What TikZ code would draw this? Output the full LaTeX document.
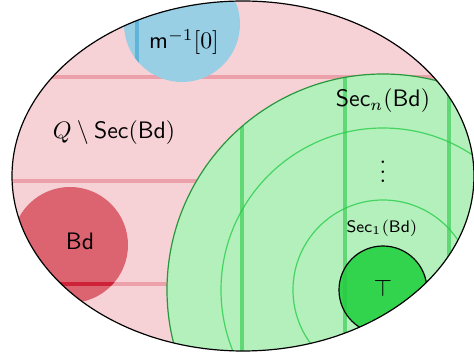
\documentclass[tikz,border=0pt]{standalone}
\usepackage{amsmath,amssymb}
\definecolor{pinkfill}{RGB}{246,210,215}
\definecolor{pinkline}{RGB}{236,160,170}
\definecolor{bluefill}{RGB}{152,207,229}
\definecolor{blueline}{RGB}{95,180,216}
\definecolor{redfill}{RGB}{220,99,112}
\definecolor{redline}{RGB}{206,34,56}
\definecolor{greenfill}{RGB}{179,240,188}
\definecolor{greenline}{RGB}{40,200,70}
\definecolor{greenring}{RGB}{68,213,96}
\definecolor{greenedge}{RGB}{40,150,60}
\definecolor{topfill}{RGB}{51,212,77}
\tikzset{
  gridline/.style={line width=1.4pt},
  ring/.style={draw=greenring, line width=0.5pt},
  lbl/.style={inner sep=0pt, font=\normalsize},
}
\begin{document}
\begin{tikzpicture}[x=0.42pt,y=-0.42pt]
\useasboundingbox (0,0) rectangle (474,356);
\def\ellpath{(243,176) ellipse [x radius=231, y radius=175]}
\begin{scope}
  \clip \ellpath;
  \fill[pinkfill] (0,0) rectangle (474,356);
  \foreach \yy in {77,181,284} \draw[gridline, pinkline] (0,\yy) -- (474,\yy);
  % blue region
  \begin{scope}
    \clip (182,24) circle [radius=58];
    \fill[bluefill] (0,0) rectangle (474,356);
    \draw[gridline, blueline] (137,0) -- (137,100);
  \end{scope}
  % Bd region
  \begin{scope}
    \clip (70,245) circle [radius=58];
    \fill[redfill] (0,0) rectangle (474,356);
    \draw[gridline, redline] (0,284) -- (200,284);
  \end{scope}
  % green region
  \begin{scope}
    \clip (383,290) circle [radius=216];
    \fill[greenfill] (0,0) rectangle (474,356);
    \draw[ring] (383,290) circle [radius=162];
    \draw[ring] (383,290) circle [radius=90];
    \fill[topfill] (383,290) circle [radius=44];
    \foreach \xx in {242,345,449} \draw[gridline, greenline, opacity=0.6] (\xx,0) -- (\xx,356);
    \draw[black, line width=0.5pt] (383,290) circle [radius=44];
  \end{scope}
  \draw[greenedge, line width=0.5pt] (383,290) circle [radius=216];
\end{scope}
\draw[black, line width=0.5pt] \ellpath;
\node[lbl] (m) at (184,42) {$\mathsf{m}^{-1}[0]$};
\node[lbl] (q) at (114,133) {$Q\setminus\mathsf{Sec}(\mathsf{Bd})$};
\node[lbl] (bd) at (80,241) {$\mathsf{Bd}$};
\node[lbl] (secn) at (383,101) {$\mathsf{Sec}_n(\mathsf{Bd})$};
\node[lbl] (dots) at (383,165) {$\vdots$};
\node[lbl, font=\scriptsize] (sec1) at (382,228) {$\mathsf{Sec}_1(\mathsf{Bd})$};
\node[lbl] (top) at (383,288) {$\top$};
\end{tikzpicture}
\end{document}
